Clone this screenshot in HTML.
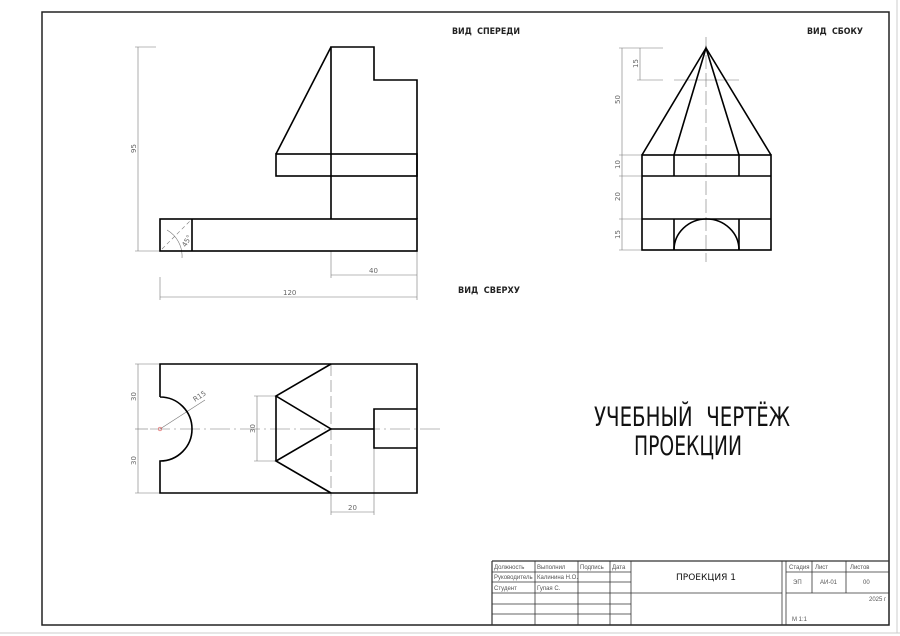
<!DOCTYPE html>
<html><head><meta charset="utf-8"><style>
html,body{margin:0;padding:0;background:#fff;}
svg{display:block;}
text{font-family:"DejaVu Sans","Liberation Sans",sans-serif;}
.t{font-family:"Liberation Sans",sans-serif;font-size:6px;fill:#555;}
</style></head><body>
<svg width="900" height="636" viewBox="0 0 900 636" xmlns="http://www.w3.org/2000/svg">
<rect x="0" y="0" width="900" height="636" fill="#fff"/>
<line x1="0" y1="633" x2="900" y2="633" stroke="#ccc" stroke-width="1"/>
<line x1="897" y1="0" x2="897" y2="633" stroke="#ccc" stroke-width="1"/>
<rect x="42" y="12" width="847" height="613" fill="none" stroke="#222" stroke-width="1.5"/>

<!-- headings -->
<text x="452" y="34" font-size="9" font-weight="bold" textLength="68" lengthAdjust="spacingAndGlyphs" fill="#222" word-spacing="3">ВИД СПЕРЕДИ</text>
<text x="807" y="34" font-size="9" font-weight="bold" textLength="56" lengthAdjust="spacingAndGlyphs" fill="#222" word-spacing="3">ВИД СБОКУ</text>
<text x="458" y="293" font-size="9" font-weight="bold" textLength="62" lengthAdjust="spacingAndGlyphs" fill="#222" word-spacing="3">ВИД СВЕРХУ</text>
<text x="594" y="426" font-size="27" textLength="196" lengthAdjust="spacingAndGlyphs" fill="#111" word-spacing="10">УЧЕБНЫЙ ЧЕРТЁЖ</text>
<text x="634" y="455" font-size="27" textLength="108" lengthAdjust="spacingAndGlyphs" fill="#111">ПРОЕКЦИИ</text>

<!-- thin dims -->
<g stroke="#777" stroke-width="0.6" fill="none">
 <line x1="138" y1="47" x2="138" y2="251"/><line x1="135" y1="47" x2="156" y2="47"/><line x1="135" y1="251" x2="160" y2="251"/>
 <line x1="331" y1="251" x2="331" y2="278"/><line x1="417" y1="251" x2="417" y2="300"/><line x1="331" y1="275" x2="417" y2="275"/>
 <line x1="160" y1="277" x2="160" y2="300"/><line x1="160" y1="297" x2="417" y2="297"/>
 <line x1="162" y1="249" x2="190" y2="221" stroke-dasharray="4,3"/>
 <path d="M167 230 A30 30 0 0 1 182 258"/>
 <line x1="622" y1="48" x2="622" y2="250"/><line x1="619" y1="48" x2="663" y2="48"/>
 <line x1="640" y1="48" x2="640" y2="80"/><line x1="637" y1="80" x2="663" y2="80"/>
 <line x1="619" y1="155" x2="642" y2="155"/><line x1="619" y1="176" x2="642" y2="176"/><line x1="619" y1="219" x2="642" y2="219"/><line x1="619" y1="250" x2="642" y2="250"/>
 <line x1="706" y1="37" x2="706" y2="262" stroke-dasharray="14,4"/>
 <line x1="674" y1="80" x2="739" y2="80"/>
 <line x1="138" y1="364" x2="138" y2="493"/><line x1="135" y1="364" x2="160" y2="364"/><line x1="135" y1="493" x2="160" y2="493"/><line x1="135" y1="429" x2="148" y2="429"/>
 <line x1="150" y1="429" x2="440" y2="429" stroke-dasharray="20,4,2,4"/>
 <line x1="331" y1="364" x2="331" y2="496" stroke-dasharray="12,4"/>
 <line x1="257" y1="396" x2="257" y2="461"/><line x1="254" y1="396" x2="276" y2="396"/><line x1="254" y1="461" x2="276" y2="461"/>
 <line x1="331" y1="493" x2="331" y2="515"/><line x1="374" y1="448" x2="374" y2="515"/><line x1="331" y1="512" x2="374" y2="512"/>
 <line x1="160" y1="429" x2="205" y2="400"/>
</g>
<circle cx="160" cy="429" r="1.8" fill="none" stroke="#d55" stroke-width="0.6"/>
<g font-family="Liberation Sans" font-size="7" fill="#666">
 <text transform="translate(136,153) rotate(-90)">95</text>
 <text x="369" y="273">40</text>
 <text x="283" y="295">120</text>
 <text x="182" y="245" transform="rotate(-60 186 243)">45°</text>
 <text transform="translate(620,104) rotate(-90)">50</text>
 <text transform="translate(638,68) rotate(-90)">15</text>
 <text transform="translate(620,169) rotate(-90)">10</text>
 <text transform="translate(620,201) rotate(-90)">20</text>
 <text transform="translate(620,239) rotate(-90)">15</text>
 <text transform="translate(136,401) rotate(-90)">30</text>
 <text transform="translate(136,465) rotate(-90)">30</text>
 <text transform="translate(255,433) rotate(-90)">30</text>
 <text x="348" y="510">20</text>
 <text transform="translate(195,402) rotate(-33)">R15</text>
</g>

<g stroke="#000" stroke-width="1.6" fill="none">
 <rect x="160" y="219" width="257" height="32"/>
 <line x1="192" y1="219" x2="192" y2="251"/>
 <polyline points="331,219 331,47 374,47 374,80 417,80 417,219"/>
 <rect x="276" y="154" width="141" height="22"/>
 <line x1="276" y1="154" x2="331" y2="47"/>
 <rect x="642" y="155" width="129" height="95"/>
 <line x1="642" y1="176" x2="771" y2="176"/><line x1="642" y1="219" x2="771" y2="219"/>
 <line x1="674" y1="155" x2="674" y2="176"/><line x1="739" y1="155" x2="739" y2="176"/>
 <line x1="674" y1="219" x2="674" y2="250"/><line x1="739" y1="219" x2="739" y2="250"/>
 <path d="M674 250 A32.5 31 0 0 1 739 250"/>
 <polyline points="642,155 706,48 771,155"/>
 <polyline points="674,155 706,48 739,155"/>
 <path d="M160 397 L160 364 L417 364 L417 493 L160 493 L160 461 A32 32 0 0 0 160 397"/>
 <line x1="276" y1="396" x2="276" y2="461"/>
 <polyline points="331,364 276,396 331,429 276,461 331,493"/>
 <line x1="331" y1="429" x2="374" y2="429"/>
 <polyline points="417,409 374,409 374,448 417,448"/>
</g>

<g stroke="#333" stroke-width="0.8" fill="none">
 <line x1="492" y1="561" x2="889" y2="561" stroke-width="1.2"/>
 <line x1="492" y1="561" x2="492" y2="625" stroke-width="1.2"/>
 <line x1="492" y1="572" x2="631" y2="572"/><line x1="492" y1="582" x2="631" y2="582"/><line x1="492" y1="593" x2="631" y2="593"/><line x1="492" y1="604" x2="631" y2="604"/><line x1="492" y1="614" x2="631" y2="614"/>
 <line x1="535" y1="561" x2="535" y2="625"/><line x1="578" y1="561" x2="578" y2="625"/><line x1="610" y1="561" x2="610" y2="625"/><line x1="631" y1="561" x2="631" y2="625"/>
 <line x1="631" y1="593" x2="782" y2="593"/>
 <line x1="782" y1="561" x2="782" y2="625"/><line x1="786" y1="561" x2="786" y2="625"/>
 <line x1="786" y1="572" x2="889" y2="572"/><line x1="786" y1="593" x2="889" y2="593"/>
 <line x1="812" y1="561" x2="812" y2="593"/><line x1="846" y1="561" x2="846" y2="593"/>
</g>
<g>
 <text x="494" y="569" class="t">Должность</text>
 <text x="537" y="569" class="t">Выполнил</text>
 <text x="580" y="569" class="t">Подпись</text>
 <text x="612" y="569" class="t">Дата</text>
 <text x="494" y="579" class="t">Руководитель</text>
 <text x="537" y="579" class="t">Калинина Н.О.</text>
 <text x="494" y="590" class="t">Студент</text>
 <text x="537" y="590" class="t">Гупая С.</text>
 <text x="789" y="569" class="t">Стадия</text>
 <text x="815" y="569" class="t">Лист</text>
 <text x="850" y="569" class="t">Листов</text>
 <text x="793" y="584" class="t">ЭП</text>
 <text x="820" y="584" class="t">АИ-01</text>
 <text x="863" y="584" class="t">00</text>
 <text x="869" y="601" class="t">2025 г</text>
 <text x="792" y="621" class="t">М 1:1</text>
</g>
<text x="706" y="580" font-family="Liberation Sans" font-size="9" text-anchor="middle" fill="#111">ПРОЕКЦИЯ 1</text>
</svg>
</body></html>
